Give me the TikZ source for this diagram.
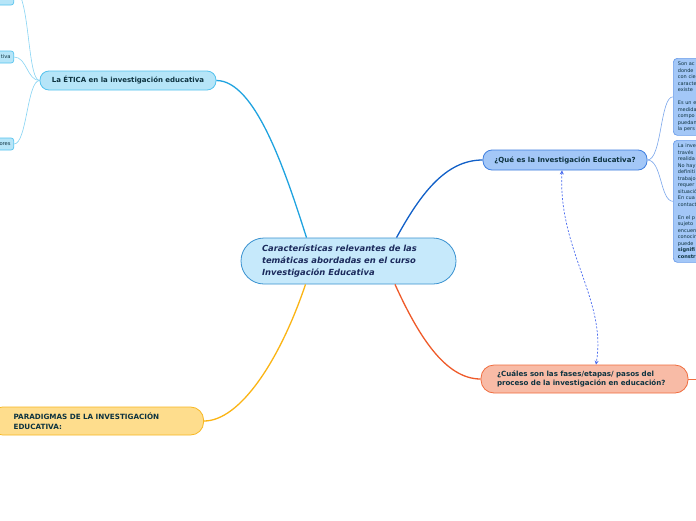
\documentclass[tikz,border=0pt]{standalone}
\usepackage{fontspec}
\setmainfont{DejaVu Sans}
\usetikzlibrary{arrows.meta}
\definecolor{cfill}{HTML}{C6E9FB}
\definecolor{cdraw}{HTML}{3A92D0}
\definecolor{ctext}{HTML}{1B2A5C}
\definecolor{efill}{HTML}{B6E5F8}
\definecolor{edraw}{HTML}{55C3EE}
\definecolor{eline}{HTML}{1FA3E0}
\definecolor{lline}{HTML}{86D4F4}
\definecolor{qfill}{HTML}{A3C7F7}
\definecolor{qdraw}{HTML}{3F7FE0}
\definecolor{qline}{HTML}{1160C8}
\definecolor{rdraw}{HTML}{6C9DEA}
\definecolor{rline}{HTML}{7AA6EC}
\definecolor{ufill}{HTML}{F8BBA6}
\definecolor{udraw}{HTML}{F06C3E}
\definecolor{uline}{HTML}{EF5A29}
\definecolor{pfill}{HTML}{FEDD8D}
\definecolor{pdraw}{HTML}{F8B822}
\definecolor{pline}{HTML}{FBB413}
\definecolor{dline}{HTML}{4A6CEF}
\definecolor{ttext}{HTML}{0E3340}
\tikzset{
  hub/.style={draw=cdraw, fill=cfill, line width=0.8pt, rounded corners=23pt,
    minimum width=215pt, minimum height=46pt, text width=173pt, align=left,
    font=\fontsize{8.4}{12}\selectfont\bfseries\itshape, text=ctext, inner sep=0pt},
  etica/.style={draw=edraw, fill=efill, line width=0.8pt, rounded corners=9pt,
    minimum width=176pt, minimum height=19pt, align=center, inner sep=0pt,
    font=\fontsize{7}{8}\selectfont\bfseries, text=ttext},
  leaf/.style={draw=edraw, fill=efill, line width=0.7pt, rounded corners=2.5pt,
    minimum width=40pt, minimum height=12pt, text width=34pt, align=right, inner sep=0pt,
    font=\fontsize{5.2}{6}\selectfont, text=ttext},
  que/.style={draw=qdraw, fill=qfill, line width=0.8pt, rounded corners=9pt,
    minimum width=164pt, minimum height=20pt, align=center, inner sep=0pt,
    font=\fontsize{7}{8}\selectfont\bfseries, text=ttext},
  rbox/.style={draw=rdraw, fill=qfill, line width=0.7pt, rounded corners=4pt,
    text width=40pt, align=left, inner xsep=4.5pt, inner ysep=3pt,
    font=\fontsize{5}{6.5}\selectfont, text=ttext},
  cual/.style={draw=udraw, fill=ufill, line width=0.8pt, rounded corners=13pt,
    minimum width=207pt, minimum height=28pt, text width=175pt, align=left, inner sep=0pt,
    font=\fontsize{7.1}{9}\selectfont\bfseries, text=ttext},
  para/.style={draw=pdraw, fill=pfill, line width=0.8pt, rounded corners=13pt,
    minimum width=214pt, minimum height=28pt, text width=166pt, align=left, inner sep=0pt,
    font=\fontsize{7.2}{10}\selectfont\bfseries, text=ttext},
  link/.style={line width=1.3pt},
  twig/.style={line width=0.6pt},
}
\begin{document}
\begin{tikzpicture}[x=1pt,y=-1pt]
\useasboundingbox (0,0) rectangle (696,520);
\fill[white] (0,0) rectangle (696,520);

% central
\node[hub] (c) at (348.5,261) {Características relevantes de las\\temáticas abordadas en el curso\\Investigación Educativa};

% ethics branch
\node[etica] (e) at (128,80.5) {La ÉTICA en la investigación educativa};
\node[leaf, anchor=east, minimum height=30pt] (l1) at (14,-10) {};
\node[leaf, anchor=east] (l2) at (14,57) {tiva};
\node[leaf, anchor=east] (l3) at (14,144) {ores};

% que branch
\node[que] (q) at (565,160) {¿Qué es la Investigación Educativa?};
\node[rbox, anchor=north west, minimum height=77pt] (r1) at (673,58) {Son ac\\donde\\con cie\\caracte\\existe\\[6.5pt]Es un e\\medida\\compo\\puedan\\la pers};
\node[rbox, anchor=north west, minimum height=122pt] (r2) at (673,140) {La inve\\través\\realida\\No hay\\definiti\\trabajo\\requer\\situació\\En cua\\contact\\[6.5pt]En el p\\sujeto\\encuen\\conocir\\puede\\\textbf{signifi}\\\textbf{constr}};

% cuales branch
\node[cual] (u) at (584.5,379) {¿Cuáles son las fases/etapas/ pasos del\\proceso de la investigación en educación?};
\coordinate (uend) at (700,379);

% paradigmas
\node[para, anchor=east] (p) at (204,421) {PARADIGMAS DE LA INVESTIGACIÓN\\EDUCATIVA:};

% main links
\draw[link, eline] (e.east) .. controls (255,80.5) and (285,170) .. ([xshift=-42pt]c.north);
\draw[link, qline] ([xshift=48pt]c.north) .. controls (420,195) and (445,160) .. (q.west);
\draw[link, uline] ([xshift=46.5pt]c.south) .. controls (418,335) and (445,379) .. (u.west);
\draw[link, pline] ([xshift=-43pt]c.south) .. controls (280,360) and (240,421) .. (p.east);

% twigs
\draw[twig, lline] (e.west) .. controls (27,80.5) and (30,-10) .. (l1.east);
\draw[twig, lline] (e.west) .. controls (27,80.5) and (27,57) .. (l2.east);
\draw[twig, lline] (e.west) .. controls (27,80.5) and (27,144) .. (l3.east);
\draw[twig, rline] (q.east) .. controls (662,160) and (660,96.5) .. (r1.west);
\draw[twig, rline] (q.east) .. controls (662,160) and (660,201) .. (r2.west);
\draw[twig, udraw] (u.east) -- (uend);

% dashed relation
\draw[dline, line width=0.7pt, dash pattern=on 2pt off 1.6pt, {Stealth[length=4pt,width=4pt]}-{Stealth[length=4pt,width=4pt]}]
  ([xshift=-3pt]q.south) .. controls (558,250) and (607,300) .. ([xshift=11.5pt]u.north);
\end{tikzpicture}
\end{document}
